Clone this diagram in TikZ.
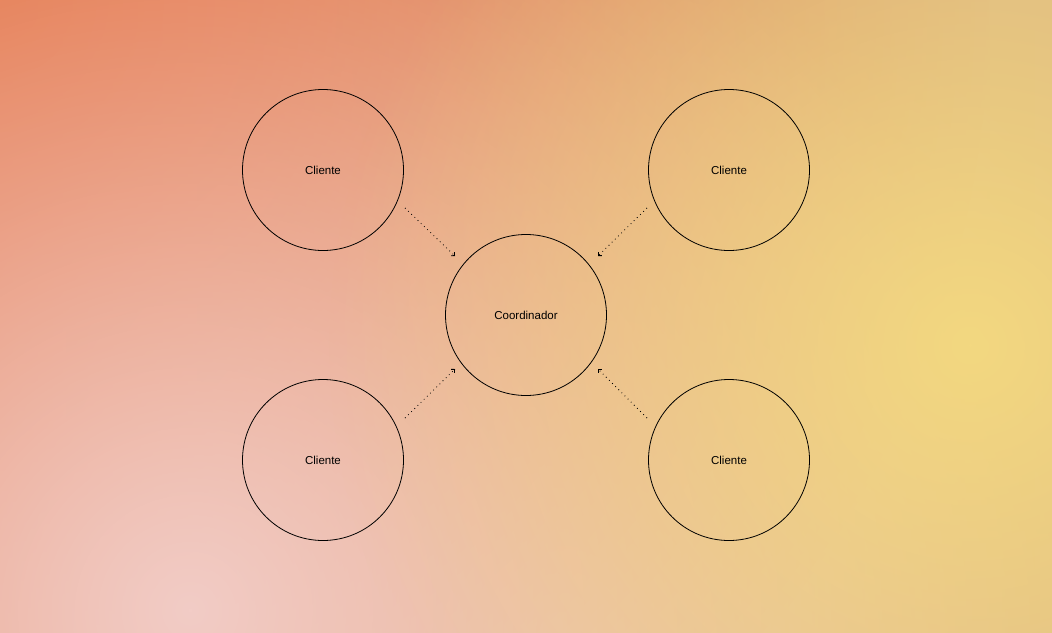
\documentclass[tikz,border=0pt]{standalone}
\usepackage{fontspec}
\setmainfont{Liberation Sans}
\usetikzlibrary{fadings,arrows.meta,calc}
\definecolor{bgL}{HTML}{E38865}
\definecolor{bgM}{HTML}{DD946E}
\definecolor{bgR}{HTML}{DBB283}
\definecolor{blobO}{HTML}{E5703F}
\definecolor{blobP}{HTML}{F2CCC6}
\definecolor{blobY}{HTML}{F3D880}
\definecolor{blobT}{HTML}{D8B083}
\definecolor{blobB}{HTML}{E6C298}
\tikzfading[name=softblob, inner color=transparent!0, outer color=transparent!100]
\tikzset{
  node circ/.style={circle, draw=black, line width=0.8pt, minimum size=161pt, inner sep=0pt, font=\fontsize{11.5}{13}\selectfont},
  link/.style={line width=0.8pt, dash pattern=on 0.8pt off 3.6pt, -{Straight Barb[length=2.5pt,width=5pt,line width=0.8pt]}}
}
\begin{document}
\begin{tikzpicture}[x=1pt,y=-1pt]
\useasboundingbox (0,0) rectangle (1052,632);
\shade[left color=bgL, middle color=bgM, right color=bgR, shading angle=90] (0,0) rectangle (1052,632);
\begin{scope}
\clip (0,0) rectangle (1052,632);
\fill[blobT, path fading=softblob] (1052,0) circle (800);
\fill[blobB, path fading=softblob] (560,632) circle (700);
\fill[blobO, path fading=softblob] (0,0) circle (1000);
\fill[blobP, path fading=softblob] (190,610) circle (850);
\fill[blobY, path fading=softblob] (970,345) circle (640);
\end{scope}
\node[node circ] (co) at (526,315) {Coordinador};
\node[node circ] (c1) at (323,170) {Cliente};
\node[node circ] (c2) at (729,170) {Cliente};
\node[node circ] (c3) at (323,460) {Cliente};
\node[node circ] (c4) at (729,460) {Cliente};
\coordinate (s1) at ($(c1.center)+(82,38)$);
\coordinate (e1) at ($(co.center)+(-71,-59)$);
\coordinate (s2) at ($(c2.center)+(-82,38)$);
\coordinate (e2) at ($(co.center)+(72,-59)$);
\coordinate (s3) at ($(c3.center)+(82,-42)$);
\coordinate (e3) at ($(co.center)+(-71,54)$);
\coordinate (s4) at ($(c4.center)+(-82,-42)$);
\coordinate (e4) at ($(co.center)+(72,54)$);
\draw[link] (s1) -- (e1);
\draw[link] (s2) -- (e2);
\draw[link] (s3) -- (e3);
\draw[link] (s4) -- (e4);
\end{tikzpicture}
\end{document}
